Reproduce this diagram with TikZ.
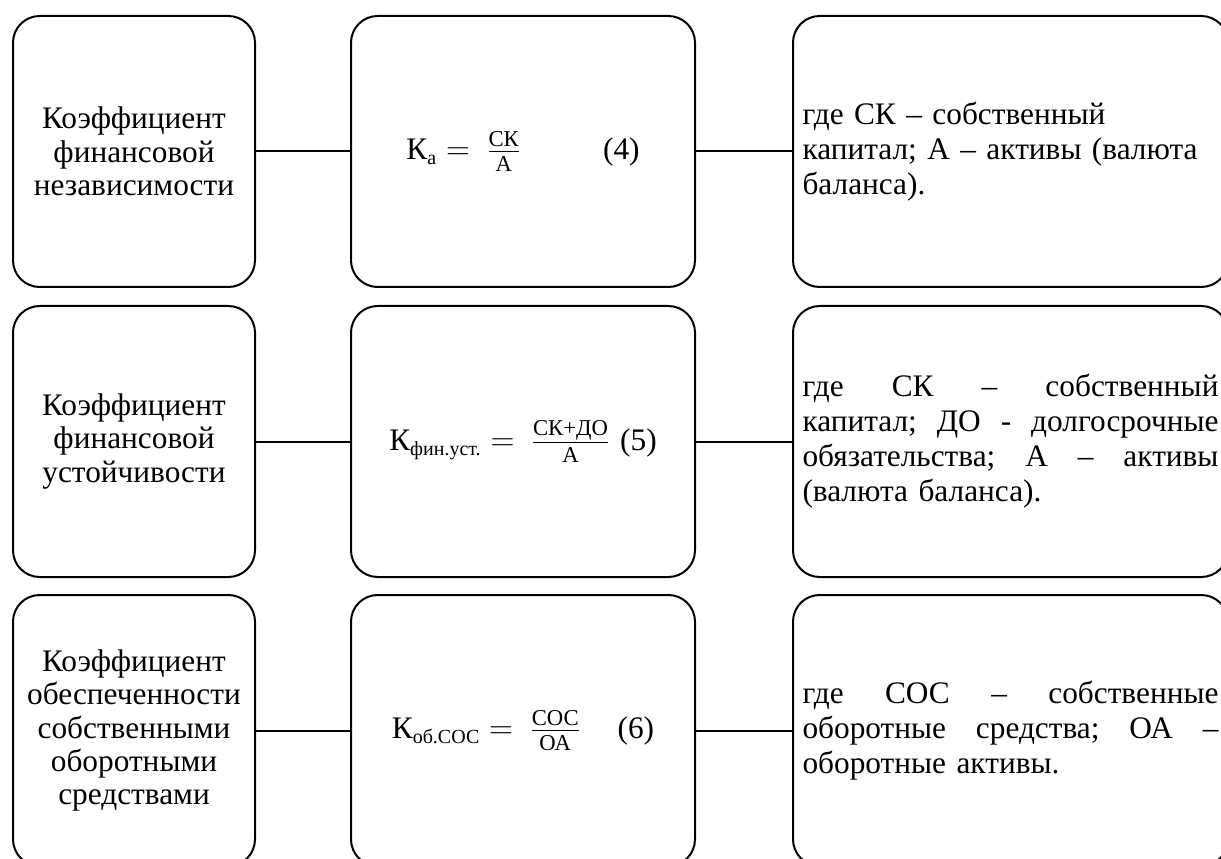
\documentclass[tikz,border=0pt]{standalone}
\usepackage{fontspec}
\setmainfont{Liberation Serif}
\usepackage{amsmath}
\newcommand{\drob}[1]{\mbox{\fontsize{17pt}{17pt}\selectfont #1}}
\newcommand{\indx}[1]{\mbox{\fontsize{15pt}{15pt}\selectfont #1}}
\tikzset{every picture/.style={line width=1.5pt}}
\tikzset{
  blok/.style={draw, rounded corners=20pt, minimum height=203.25pt, inner sep=0pt, font=\fontsize{23.5pt}{25pt}\selectfont},
  nazv/.style={blok, minimum width=181.5pt, align=center},
  formula/.style={blok, minimum width=258pt},
  poyasn/.style={blok, minimum width=326.25pt, text width=312pt, align=left, font=\fontsize{23.5pt}{26.25pt}\selectfont}
}

\begin{document}
\begin{tikzpicture}[x=0.75pt,y=0.75pt,yscale=-1,xscale=1]
\useasboundingbox (0,0) rectangle (1221,859);

%Row 1
\node [nazv] (koef1) at (134,151.5) {Коэффициент\\финансовой\\независимости};
\node [formula] (form1) at (523,151.5) {$\text{К}_{\indx{а}} = \ \frac{\drob{СК}}{\drob{А}}$\hspace{62pt}(4)};
\node [poyasn] (poya1) at (1010.5,151.5) {где СК – собственный\\капитал; А – активы (валюта\\баланса).};
%Row 2
\node [nazv] (koef2) at (134,441.5) {Коэффициент\\финансовой\\устойчивости};
\node [formula] (form2) at (523,441.5) {$\text{К}_{\indx{фин.уст.}} = \ \frac{\drob{СК+ДО}}{\drob{А}}$\hspace{8pt}(5)\hspace{26pt}};
\node [poyasn] (poya2) at (1010.5,441.5) {где\hfill СК\hfill –\hfill собственный\\капитал;\hfill ДО\hfill -\hfill долгосрочные\\обязательства;\hfill А\hfill –\hfill активы\\(валюта баланса).};
%Row 3
\node [nazv] (koef3) at (134,730.5) {Коэффициент\\обеспеченности\\собственными\\оборотными\\средствами};
\node [formula] (form3) at (523,730.5) {$\text{К}_{\indx{об.СОС}} = \ \frac{\drob{СОС}}{\drob{ОА}}$\hspace{28pt}(6)};
\node [poyasn] (poya3) at (1010.5,730.5) {где\hfill СОС\hfill –\hfill собственные\\оборотные\hfill средства;\hfill ОА\hfill –\\оборотные активы.};

%Straight Lines
\draw (koef1) -- (form1);
\draw (form1) -- (poya1);
\draw (koef2) -- (form2);
\draw (form2) -- (poya2);
\draw (koef3) -- (form3);
\draw (form3) -- (poya3);

\end{tikzpicture}
\end{document}
